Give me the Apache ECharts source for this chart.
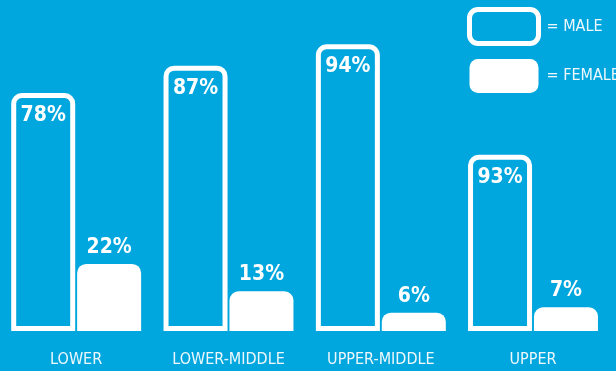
<!DOCTYPE html>
<html>
<head>
<meta charset="utf-8">
<style>
  html, body { margin: 0; padding: 0; background: #00a6de; }
  #chart { width: 616px; height: 371px; }
</style>
<script src="https://cdn.jsdelivr.net/npm/echarts@6/dist/echarts.min.js"></script>
</head>
<body>
<div id="chart"></div>
<script>
// ---- data ----
const categories = ['LOWER', 'LOWER-MIDDLE', 'UPPER-MIDDLE', 'UPPER'];
const maleValues = [78, 87, 94, 93];
const femaleValues = [22, 13, 6, 7];
const seriesNames = ['MALE', 'FEMALE'];

// the infographic shortens the UPPER group (beneath the legend); it is drawn in its own grid
const mainCount = 3;

const FONT = '"DejaVu Sans Condensed", "Liberation Sans Narrow", sans-serif';
const BG = '#00a6de';
const TXT = '#eef8fc';

const chart = echarts.init(document.getElementById('chart'), null, { renderer: 'canvas' });

function maleSeries(xi, yi, data) {
  return {
    name: seriesNames[0], type: 'bar', xAxisIndex: xi, yAxisIndex: yi,
    data: data, barWidth: 64, barGap: '3%',
    itemStyle: { color: BG, borderColor: '#ffffff', borderWidth: 5, borderRadius: [8, 8, 0, 0] },
    label: {
      show: true, position: 'insideTop', distance: 12, formatter: '{c}%',
      color: '#ffffff', fontFamily: FONT, fontWeight: 'bold', fontSize: 21
    },
    emphasis: { disabled: true }, z: 2
  };
}
function femaleSeries(xi, yi, data) {
  return {
    name: seriesNames[1], type: 'bar', xAxisIndex: xi, yAxisIndex: yi,
    data: data, barWidth: 64, barGap: '3%',
    itemStyle: { color: '#ffffff', borderRadius: [9, 9, 0, 0] },
    label: {
      show: true, position: 'top', distance: 6, formatter: '{c}%',
      color: '#ffffff', fontFamily: FONT, fontWeight: 'bold', fontSize: 21
    },
    emphasis: { disabled: true }, z: 3
  };
}

const xAxisCommon = {
  type: 'category',
  axisLine: { show: false }, axisTick: { show: false },
  axisLabel: { interval: 0, hideOverlap: false, color: TXT, fontFamily: FONT, fontSize: 16, margin: 21 }
};
const yAxisCommon = { type: 'value', min: 0, show: false, splitLine: { show: false } };

const option = {
  backgroundColor: BG,
  animation: false,
  grid: [
    { left: 0, width: 457, top: 26, bottom: 40 },
    { left: 457, width: 152, top: 26, bottom: 40 }
  ],
  xAxis: [
    Object.assign({ gridIndex: 0, data: categories.slice(0, mainCount) }, xAxisCommon),
    Object.assign({ gridIndex: 1, data: categories.slice(mainCount) }, xAxisCommon)
  ],
  yAxis: [
    Object.assign({ gridIndex: 0, max: 100 }, yAxisCommon),
    Object.assign({ gridIndex: 1, max: 161 }, yAxisCommon),
    Object.assign({ gridIndex: 1, max: 90 }, yAxisCommon)
  ],
  legend: {
    orient: 'vertical', left: 462, top: 2,
    itemWidth: 69, itemHeight: 34, itemGap: 13,
    selectedMode: false,
    formatter: '= {name}',
    textStyle: { color: TXT, fontFamily: FONT, fontSize: 16, padding: [0, 0, 0, 3] },
    data: [
      { name: seriesNames[0], itemStyle: { borderWidth: 5, borderColor: '#ffffff', color: BG } },
      { name: seriesNames[1], itemStyle: { borderWidth: 0, color: '#ffffff' } }
    ]
  },
  series: [
    maleSeries(0, 0, maleValues.slice(0, mainCount)),
    femaleSeries(0, 0, femaleValues.slice(0, mainCount)),
    maleSeries(1, 1, maleValues.slice(mainCount)),
    femaleSeries(1, 2, femaleValues.slice(mainCount))
  ]
};
chart.setOption(option);
</script>
</body>
</html>
